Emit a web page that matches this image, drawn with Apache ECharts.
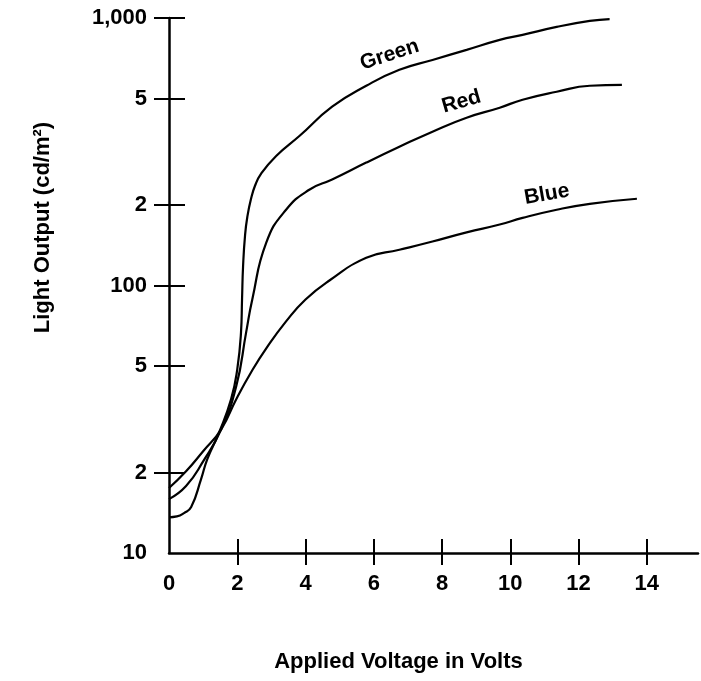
<!DOCTYPE html>
<html>
<head>
<meta charset="utf-8">
<script src="https://cdn.jsdelivr.net/npm/echarts@6/dist/echarts.min.js"></script>
<style>
html,body{margin:0;padding:0;background:#fff;}
#chart{width:701px;height:681px;}
</style>
</head>
<body>
<div id="chart"></div>
<script>
// ---- data ----
const xTickLabelValues = [0, 2, 4, 6, 8, 10, 12, 14];
const xTickMarkValues = [2, 4, 6, 8, 10, 12, 14];
const yTickLabelValues = [10, 20, 50, 100, 200, 500, 1000];
const yTickLabels = ['10', '2', '5', '100', '2', '5', '1,000'];
const yTickMarkValues = [20, 50, 100, 200, 500, 1000];

const greenX = [0, 0.23, 0.44, 0.65, 0.94, 1.12, 1.47, 1.82, 2.0, 2.11, 2.14, 2.17, 2.23, 2.3, 2.4, 2.52, 2.7, 3.14, 3.82, 4.78, 5.78, 6.75, 7.72, 8.72, 9.69, 10.36, 11.36, 12.33, 12.91];
const greenY = [13.6, 13.7, 14.1, 14.85, 18.9, 22.4, 28.3, 37.6, 48.6, 66.8, 88.7, 117.8, 155, 182, 210, 236, 262, 305, 362, 466, 558, 640, 697, 760, 828, 865, 926, 975, 991];

const redX = [0, 0.5, 1.0, 1.53, 1.97, 2.26, 2.44, 2.85, 3.43, 4.11, 4.78, 5.78, 6.75, 7.72, 8.72, 9.69, 10.36, 11.36, 12.33, 13.27];
const redY = [15.9, 17.8, 22.0, 29.0, 42, 66.8, 88.7, 144.6, 192, 228, 249, 288, 330, 376, 424, 462, 495, 530, 558, 562];

const blueX = [0, 0.5, 1.0, 1.53, 1.97, 2.44, 2.85, 3.43, 4.0, 4.7, 5.78, 6.75, 7.72, 8.72, 9.69, 10.36, 11.36, 12.33, 13.71];
const blueY = [17.5, 20.2, 24.0, 29.0, 37.6, 48.2, 58.2, 73.4, 88.7, 104.4, 127, 136, 146, 158, 169, 179, 192, 202, 211];

const curveNames = ['Green', 'Red', 'Blue'];
const labelAnchorX = [6.46, 8.57, 11.07];
const labelAnchorY = [728, 486, 219];
const labelAngles = [18, 16, 10];

// ---- chart ----
const FONT = 'Liberation Sans, Arial, Helvetica, sans-serif';
const BLACK = '#000';
const pairs = (xs, ys) => xs.map((x, i) => [x, ys[i]]);

const baseX = {
  type: 'value', min: 0, max: 15.5, position: 'bottom',
  splitLine: { show: false }
};
const baseY = {
  type: 'log', logBase: 10, min: 10, max: 1000, position: 'left',
  splitLine: { show: false }
};

const lineSeries = (name, xs, ys) => ({
  name: name, type: 'line', data: pairs(xs, ys), showSymbol: false, smooth: 0.5,
  lineStyle: { color: BLACK, width: 2.2 }, xAxisIndex: 0, yAxisIndex: 0, silent: true
});

const chart = echarts.init(document.getElementById('chart'), null, { renderer: 'canvas' });
chart.setOption({
  backgroundColor: '#fff',
  animation: false,
  grid: { left: 169, top: 18, width: 529, height: 535, containLabel: false },
  xAxis: [
    Object.assign({}, baseX, {
      axisLine: { show: true, lineStyle: { color: BLACK, width: 2.5 } },
      axisTick: { show: true, customValues: xTickMarkValues, length: 12, lineStyle: { color: BLACK, width: 2 } },
      axisLabel: {
        show: true, customValues: xTickLabelValues, margin: 20,
        color: BLACK, fontFamily: FONT, fontWeight: 'bold', fontSize: 22
      },
      name: 'Applied Voltage in Volts', nameLocation: 'middle', nameGap: 98,
      nameTextStyle: { color: BLACK, fontFamily: FONT, fontWeight: 'bold', fontSize: 22, padding: [0, 70, 0, 0] }
    }),
    Object.assign({}, baseX, {
      axisLine: { show: false },
      axisTick: { show: true, inside: true, customValues: xTickMarkValues, length: 14, lineStyle: { color: BLACK, width: 2 } },
      axisLabel: { show: false }
    })
  ],
  yAxis: [
    Object.assign({}, baseY, {
      axisLine: { show: true, lineStyle: { color: BLACK, width: 2.5 } },
      axisTick: { show: true, customValues: yTickMarkValues, length: 15, lineStyle: { color: BLACK, width: 2 } },
      axisLabel: {
        show: true, customValues: yTickLabelValues, margin: 22,
        color: BLACK, fontFamily: FONT, fontWeight: 'bold', fontSize: 22,
        formatter: function (v) {
          let best = 0, bd = Infinity;
          yTickLabelValues.forEach((t, i) => { const d = Math.abs(Math.log10(t) - Math.log10(v)); if (d < bd) { bd = d; best = i; } });
          return yTickLabels[best];
        }
      },
      name: 'Light Output (cd/m²)', nameLocation: 'middle', nameGap: 115, nameRotate: 90,
      nameTextStyle: { color: BLACK, fontFamily: FONT, fontWeight: 'bold', fontSize: 22, padding: [0, 0, 0, 116] }
    }),
    Object.assign({}, baseY, {
      axisLine: { show: false },
      axisTick: { show: true, inside: true, customValues: yTickMarkValues, length: 16, lineStyle: { color: BLACK, width: 2 } },
      axisLabel: { show: false }
    })
  ],
  series: [
    lineSeries('Green', greenX, greenY),
    lineSeries('Red', redX, redY),
    lineSeries('Blue', blueX, blueY),
    { name: 'labels', type: 'scatter', symbolSize: 0, silent: true, xAxisIndex: 0, yAxisIndex: 0,
      itemStyle: { opacity: 1 },
      data: curveNames.map((n, i) => ({
        value: [labelAnchorX[i], labelAnchorY[i]], name: n,
        label: { show: true, position: 'inside', rotate: labelAngles[i], formatter: n,
          color: BLACK, opacity: 1, fontFamily: FONT, fontWeight: 'bold', fontSize: 21 }
      }))
    }
  ]
});
</script>
</body>
</html>
